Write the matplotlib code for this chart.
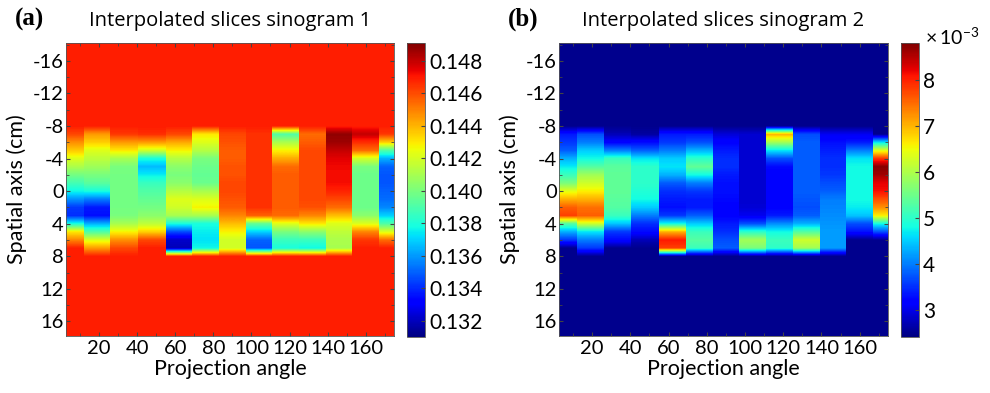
import numpy as np
import matplotlib
matplotlib.use("Agg")
import matplotlib.pyplot as plt
from matplotlib.ticker import MultipleLocator

plt.rcParams['font.family'] = ['Lato', 'DejaVu Sans']
plt.rcParams['mathtext.fontset'] = 'custom'
plt.rcParams['mathtext.rm'] = 'Lato'
plt.rcParams['axes.unicode_minus'] = False

# projection angles (column centres) and spatial rows (cm)
angles = [5, 19, 33, 48, 62, 76, 90, 104, 118, 132, 146, 160, 174]
rows = list(range(-18, 19))
band_rows = list(range(-8, 9))

# sinogram 1, values x1e-3, one list per angle, rows -8..8
bg1 = 146.9
sino1_band = [
    [146.9, 146.1, 144.7, 143.6, 142.2, 141.1, 139.9, 138.8, 137.7, 135.9, 134.3, 134.1, 137.9, 143.0, 144.9, 146.9, 146.9],
    [146.9, 144.5, 143.5, 142.2, 141.5, 140.8, 140.0, 139.3, 137.9, 135.5, 133.7, 133.5, 136.4, 139.1, 142.2, 144.5, 146.9],
    [146.9, 146.4, 144.5, 143.0, 141.0, 140.0, 139.9, 139.9, 139.9, 139.9, 139.9, 140.0, 141.0, 142.8, 144.7, 146.1, 146.9],
    [146.9, 146.6, 144.5, 141.9, 137.9, 136.6, 137.5, 138.6, 139.1, 139.5, 139.9, 140.4, 141.5, 143.5, 146.1, 146.9, 146.9],
    [146.9, 146.1, 144.2, 142.8, 141.3, 140.4, 140.0, 140.4, 141.3, 142.2, 141.9, 141.0, 137.9, 134.6, 132.2, 131.9, 146.9],
    [146.9, 143.0, 142.2, 141.3, 140.0, 139.7, 139.5, 139.7, 141.0, 142.2, 142.8, 141.0, 137.9, 137.5, 137.3, 137.7, 146.9],
    [146.9, 146.1, 145.9, 145.7, 145.7, 145.9, 145.9, 146.1, 146.1, 145.9, 145.7, 144.9, 143.8, 142.8, 141.9, 141.9, 146.9],
    [146.9, 146.5, 146.5, 146.5, 146.5, 146.5, 146.5, 146.5, 146.5, 146.5, 146.5, 145.6, 139.5, 137.0, 135.0, 134.8, 146.9],
    [146.9, 139.1, 141.1, 142.8, 144.2, 145.4, 145.7, 145.7, 145.7, 145.7, 145.7, 145.4, 142.2, 140.0, 138.6, 137.9, 146.9],
    [146.9, 145.4, 145.7, 146.1, 146.1, 146.1, 146.1, 146.1, 146.1, 146.1, 145.9, 144.9, 143.0, 140.4, 138.6, 137.7, 146.9],
    [146.9, 148.8, 148.6, 148.0, 147.5, 147.3, 147.2, 147.2, 146.8, 146.1, 145.4, 143.8, 142.2, 141.5, 141.1, 141.0, 146.9],
    [146.9, 148.0, 146.6, 145.4, 141.9, 140.0, 139.7, 139.7, 139.7, 139.7, 139.7, 140.4, 142.2, 144.9, 146.4, 146.9, 146.9],
    [146.9, 146.4, 143.5, 139.1, 136.4, 135.0, 134.8, 134.8, 135.0, 135.2, 135.7, 137.0, 139.1, 142.2, 145.4, 146.9, 146.9],
]

# sinogram 2, values x1e-3
bg2 = 2.5
sino2_band = [
    [2.5, 3.37, 3.56, 3.8, 4.33, 4.7, 5.1, 5.6, 6.4, 7.03, 7.58, 7.79, 5.3, 4.3, 3.56, 2.5, 2.5],
    [2.5, 3.7, 4.0, 4.5, 4.8, 5.3, 5.9, 6.24, 6.6, 7.03, 7.47, 7.58, 6.24, 4.65, 4.0, 3.56, 2.5],
    [2.5, 2.73, 3.2, 4.0, 5.1, 5.35, 5.4, 5.4, 5.4, 5.35, 5.3, 5.1, 4.45, 3.56, 3.25, 2.5, 2.5],
    [2.5, 2.6, 3.25, 3.8, 4.65, 5.0, 5.0, 5.0, 4.9, 4.8, 4.5, 4.0, 3.5, 3.25, 2.73, 2.5, 2.5],
    [2.5, 3.37, 3.56, 4.0, 4.5, 4.65, 4.33, 3.8, 3.5, 3.37, 3.3, 3.56, 4.8, 7.03, 8.05, 7.79, 2.5],
    [2.5, 3.37, 3.7, 4.33, 5.0, 5.4, 4.8, 4.0, 3.56, 3.37, 3.37, 3.8, 4.5, 5.1, 5.3, 5.1, 2.5],
    [2.5, 2.9, 3.2, 3.37, 3.5, 3.5, 3.37, 3.3, 3.3, 3.25, 3.2, 3.2, 3.37, 3.5, 3.7, 3.8, 2.5],
    [2.5, 2.86, 2.86, 2.86, 2.86, 2.86, 2.86, 2.86, 2.86, 2.86, 2.9, 3.05, 3.7, 5.0, 5.9, 5.6, 2.5],
    [2.5, 7.03, 5.9, 4.65, 3.7, 3.25, 3.2, 3.2, 3.2, 3.2, 3.2, 3.37, 4.1, 4.8, 5.1, 5.0, 2.5],
    [2.5, 3.7, 3.8, 3.8, 3.8, 3.8, 3.8, 3.8, 3.8, 3.75, 3.7, 3.8, 4.33, 5.3, 6.24, 5.9, 2.5],
    [2.5, 3.05, 3.3, 3.4, 3.5, 3.5, 3.56, 3.7, 3.8, 4.0, 4.05, 4.1, 4.15, 4.2, 4.2, 4.2, 2.5],
    [2.5, 3.05, 3.37, 4.0, 4.65, 4.8, 4.8, 4.8, 4.8, 4.8, 4.7, 4.45, 3.7, 3.3, 2.5, 2.5, 2.5],
    [2.5, 2.5, 4.65, 6.4, 7.85, 8.76, 8.6, 8.22, 8.12, 7.68, 7.25, 6.6, 4.8, 3.7, 2.5, 2.5, 2.5],
]

lim1 = (0.1310, 0.1491)
lim2 = (2.41, 8.80)
ticks1 = [0.132, 0.134, 0.136, 0.138, 0.140, 0.142, 0.144, 0.146, 0.148]
ticks2 = [3, 4, 5, 6, 7, 8]


def full_grid(band, bg):
    grid = np.full((len(rows), len(angles)), bg)
    i0 = rows.index(band_rows[0])
    grid[i0:i0 + len(band_rows), :] = np.array(band).T
    return grid


img1 = full_grid(sino1_band, bg1) * 1e-3
img2 = full_grid(sino2_band, bg2)

# column edges half way between the angles
a = np.array(angles, dtype=float)
mid = (a[:-1] + a[1:]) / 2
edges = np.concatenate([[a[0] - (a[1] - a[0]) / 2], mid, [a[-1] + (a[-1] - a[-2]) / 2]])

fig = plt.figure(figsize=(9.9, 3.93), dpi=100)

panels = [
    (img1, lim1, ticks1, '%.3f', 'Interpolated slices sinogram 1', '(a)',
     [66 / 990, 57 / 393, 328 / 990, 293 / 393], [407 / 990, 56 / 393, 18 / 990, 294 / 393], 15 / 990),
    (img2, lim2, ticks2, '%d', 'Interpolated slices sinogram 2', '(b)',
     [559 / 990, 57 / 393, 329 / 990, 293 / 393], [901 / 990, 56 / 393, 18 / 990, 294 / 393], 508 / 990),
]

for img, lim, cticks, fmt, title, tag, apos, cpos, tagx in panels:
    ax = fig.add_axes(apos)
    # one image per projection angle, smoothed along the spatial axis only
    for j in range(len(angles)):
        im = ax.imshow(img[:, j:j + 1], cmap='jet', vmin=lim[0], vmax=lim[1],
                       extent=(edges[j], edges[j + 1], rows[-1] + 0.5, rows[0] - 0.5),
                       origin='upper', aspect='auto', interpolation='bilinear',
                       interpolation_stage='data')
    ax.set_xlim(2.7, 174.8)
    ax.set_ylim(17.8, -18.2)
    ax.set_xticks([20, 40, 60, 80, 100, 120, 140, 160])
    ax.set_yticks([-16, -12, -8, -4, 0, 4, 8, 12, 16])
    ax.yaxis.set_minor_locator(MultipleLocator(2))
    ax.xaxis.set_minor_locator(MultipleLocator(10))
    ax.tick_params(which='both', direction='in', top=True, right=True,
                   color='#444444', labelsize=14.5)
    ax.tick_params(axis='y', pad=1.5)
    ax.tick_params(axis='x', pad=3)
    ax.tick_params(which='major', length=3)
    ax.tick_params(which='minor', length=2)
    for s in ax.spines.values():
        s.set_color('#555555')
        s.set_linewidth(0.6)
    ax.set_xlabel('Projection angle', fontsize=15.5, labelpad=1)
    ax.set_ylabel('Spatial axis (cm)', fontsize=15.5, labelpad=4)
    ax.set_title(title, fontsize=14.5, pad=12, family=['Open Sans', 'DejaVu Sans'])
    fig.text(tagx, 0.935, tag, fontsize=18, fontweight='bold',
             family='Liberation Serif', ha='left', va='baseline')

    cax = fig.add_axes(cpos)
    cb = fig.colorbar(im, cax=cax, ticks=cticks, format=fmt)
    cb.outline.set_linewidth(0.6)
    cb.outline.set_edgecolor('#555555')
    cax.tick_params(direction='in', length=3, labelsize=15, color='#444444', pad=3)

fig.text(925 / 990, 0.905, r'$\times\,10^{-3}$', fontsize=14, ha='left', va='center')

fig.savefig('out.png', dpi=100)
